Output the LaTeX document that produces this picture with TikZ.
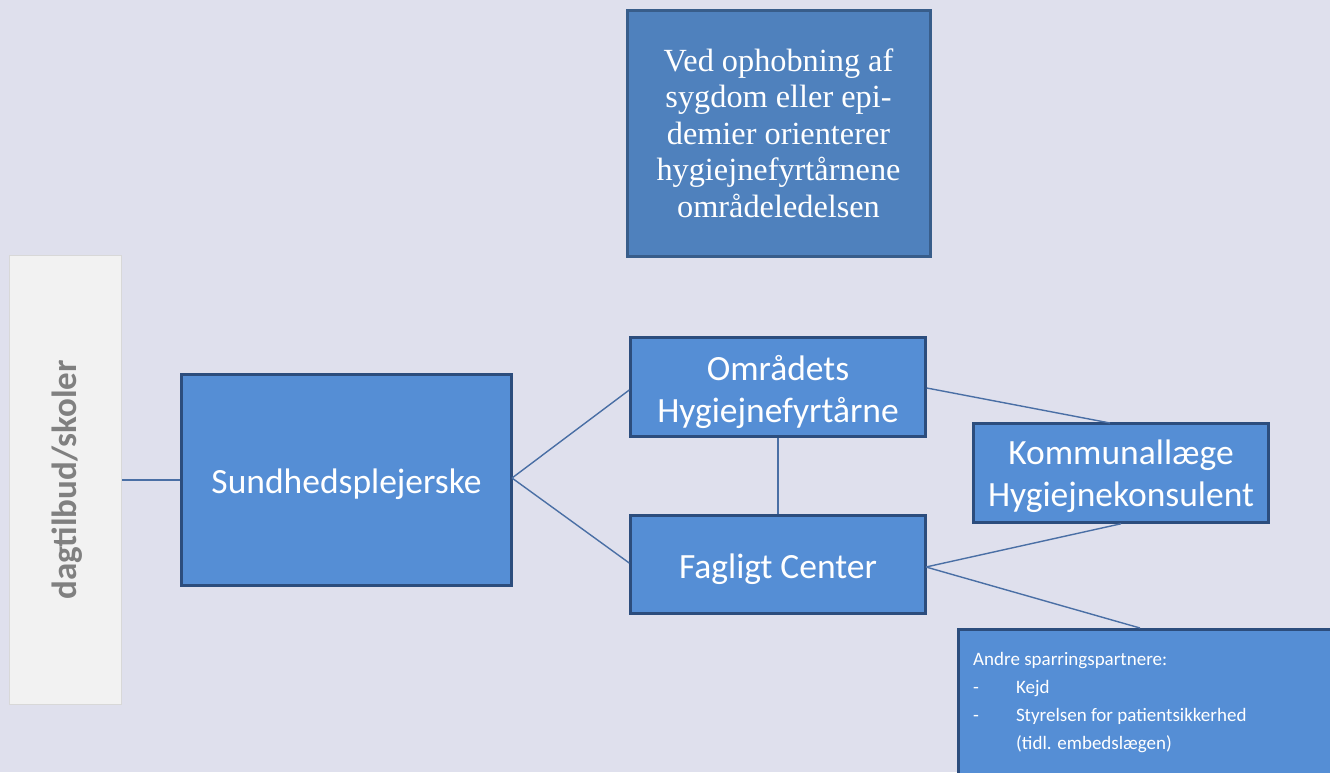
\documentclass[tikz,border=0pt]{standalone}
\usepackage{fontspec}
\setmainfont{Carlito}
\newfontfamily\serifbox{Liberation Serif}
\definecolor{bg}{RGB}{223,224,237}
\definecolor{boxfill}{RGB}{85,142,213}
\definecolor{boxline}{RGB}{44,77,125}
\definecolor{topfill}{RGB}{79,129,189}
\definecolor{topline}{RGB}{56,93,138}
\definecolor{greyfill}{RGB}{242,242,242}
\definecolor{greyline}{RGB}{216,216,216}
\definecolor{greytext}{RGB}{128,128,128}
\definecolor{conn}{RGB}{74,111,165}
\tikzset{
  bluebox/.style={draw=boxline, fill=boxfill, line width=2.5pt, inner sep=0pt},
  boxtext/.style={inner sep=0pt, align=center, text=white, font=\fontsize{35.5}{42}\selectfont},
  conline/.style={draw=conn, line width=1.4pt}
}
\begin{document}
\begin{tikzpicture}[x=1pt,y=-1pt]
\fill[bg] (0,0) rectangle (1330,772);
\useasboundingbox (0,0) rectangle (1330,772);
\clip (0,0) rectangle (1330,772);
% top box
\node[draw=topline, fill=topfill, line width=3pt, inner sep=0pt, minimum width=303pt, minimum height=246pt, align=center, text=white, font=\serifbox\fontsize{32.3}{36.5}\selectfont] (top) at (778.5,133) {Ved ophobning af\\sygdom eller epi-\\demier orienterer\\hygiejnefyrtårnene\\områdeledelsen};
% grey box
\node[draw=greyline, fill=greyfill, line width=1.5pt, inner sep=0pt, minimum width=112pt, minimum height=449pt] (grey) at (65.5,480) {};
\node[rotate=90, text=greytext, font=\bfseries\fontsize{35}{40}\selectfont] (greytxt) at (67,480) {dagtilbud/skoler};
% boxes
\node[bluebox, minimum width=330pt, minimum height=211pt] (sund) at (346.5,480) {};
\node[bluebox, minimum width=295pt, minimum height=99pt] (omr) at (778,387) {};
\node[bluebox, minimum width=295pt, minimum height=98pt] (fag) at (778,564.5) {};
\node[bluebox, minimum width=295pt, minimum height=99pt] (kom) at (1121,473) {};
\node[bluebox, anchor=north west, minimum width=390pt, minimum height=160pt] (andre) at (957,628) {};
% box texts
\node[boxtext] (sundtxt) at ([yshift=-4pt]sund.center) {Sundhedsplejerske};
\node[boxtext] (omrtxt) at ([yshift=-4.5pt]omr.center) {Områdets\\Hygiejnefyrtårne};
\node[boxtext] (fagtxt) at ([yshift=-4.5pt]fag.center) {Fagligt Center};
\node[boxtext] (komtxt) at ([yshift=-3pt]kom.center) {Kommunallæge\\Hygiejnekonsulent};
\node[anchor=north west, text=white, align=left, inner sep=0pt, font=\fontsize{19}{28}\selectfont] (andretxt) at (973,652) {Andre sparringspartnere:\\-\hspace{37pt}Kejd\\-\hspace{37pt}Styrelsen for patientsikkerhed\\\hspace{43pt}(tidl. embedslægen)};
% connectors
\coordinate (sr) at (512,478);
\coordinate (fr) at (926,567);
\draw[conline] (grey.east) -- (sund.west);
\draw[conline] (sr) -- (omr.west |- 0,390);
\draw[conline] (sr) -- (fag.west |- 0,563);
\draw[conline] (omr.south) -- (fag.north);
\draw[conline] (omr.east |- 0,388) -- (1110,423);
\draw[conline] (fr) -- (kom.south);
\draw[conline] (fr) -- (1140,628);
\end{tikzpicture}
\end{document}
